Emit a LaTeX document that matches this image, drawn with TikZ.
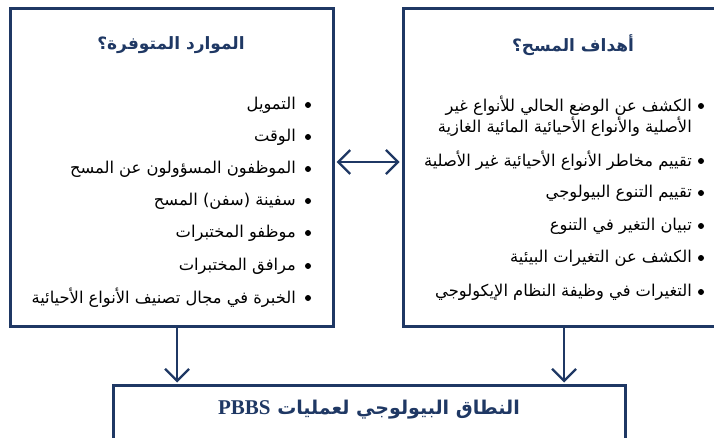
\documentclass[tikz,border=0pt]{standalone}
\usepackage{fontspec}
\usetikzlibrary{arrows.meta}
\TeXXeTstate=1
\newfontfamily\ar[Script=Arabic]{DejaVu Sans}
\newfontfamily\latserif{Liberation Serif}
\definecolor{navy}{RGB}{31,56,100}
\newcommand{\rtl}[1]{\beginR #1\endR}
\tikzset{
  frame/.style={draw=navy, line width=3pt, rectangle, inner sep=0pt},
  heading/.style={font=\ar\bfseries\fontsize{17}{20}\selectfont, text=navy, inner sep=0pt},
  item/.style={anchor=east, font=\ar\fontsize{16.3}{19.5}\selectfont, inner sep=0pt, align=right},
  dot/.style={fill=black, circle, inner sep=0pt, minimum size=6pt},
  conn/.style={draw=navy, line width=2.3pt, -{Straight Barb[length=12pt,width=24pt]}},
  dconn/.style={draw=navy, line width=2.3pt, {Straight Barb[length=12pt,width=24pt]}-{Straight Barb[length=12pt,width=24pt]}}
}
\begin{document}
\begin{tikzpicture}[x=1pt,y=-1pt]
\useasboundingbox (0,0) rectangle (714,438);
\clip (0,0) rectangle (714,438);

% frames
\node[frame, minimum width=323pt, minimum height=317pt] (lbox) at (171.5,167.5) {};
\node[frame, minimum width=322pt, minimum height=317pt] (rbox) at (564,167.5) {};
\node[frame, minimum width=512pt, minimum height=90pt] (bbox) at (369,430) {};

% headings
\node[heading] (lhead) at (171,45) {\rtl{الموارد المتوفرة؟}};
\node[heading] (rhead) at (573,45) {\rtl{أهداف المسح؟}};
\node[heading, font=\ar\bfseries\fontsize{19}{22}\selectfont] (bhead) at (369,410)
  {\rtl{النطاق البيولوجي لعمليات \beginL{\latserif\fontsize{21}{22}\selectfont PBBS}\endL}};

% resources list
\foreach \y/\t [count=\i] in {
  105/{التمويل},
  137/{الوقت},
  169/{الموظفون المسؤولون عن المسح},
  201/{سفينة (سفن) المسح},
  233/{موظفو المختبرات},
  266/{مرافق المختبرات},
  298/{الخبرة في مجال تصنيف الأنواع الأحيائية}} {
  \node[dot] (ld\i) at (308,\y) {};
  \node[item] (li\i) at (296,\y) {\rtl{\t}};
}

% objectives list
\node[dot] (rd1) at (701,106) {};
\node[item] (ri1) at (692,116) {\rtl{الكشف عن الوضع الحالي للأنواع غير}\\\rtl{الأصلية والأنواع الأحيائية المائية الغازية}};
\foreach \y/\t [count=\i from 2] in {
  161/{تقييم مخاطر الأنواع الأحيائية غير الأصلية},
  193/{تقييم التنوع البيولوجي},
  226/{تبيان التغير في التنوع},
  258/{الكشف عن التغيرات البيئية},
  292/{التغيرات في وظيفة النظام الإيكولوجي}} {
  \node[dot] (rd\i) at (701,\y) {};
  \node[item] (ri\i) at (692,\y) {\rtl{\t}};
}

% connectors
\coordinate (mid) at ([yshift=5.5pt]lbox.east);
\draw[dconn, shorten <=2pt, shorten >=2pt] (mid) -- (mid -| rbox.west);
\coordinate (la) at ([xshift=5.5pt]lbox.south);
\draw[conn, shorten >=1pt] (la) -- (la |- bbox.north);
\draw[conn, shorten >=1pt] (rbox.south) -- (rbox.south |- bbox.north);
\end{tikzpicture}
\end{document}
